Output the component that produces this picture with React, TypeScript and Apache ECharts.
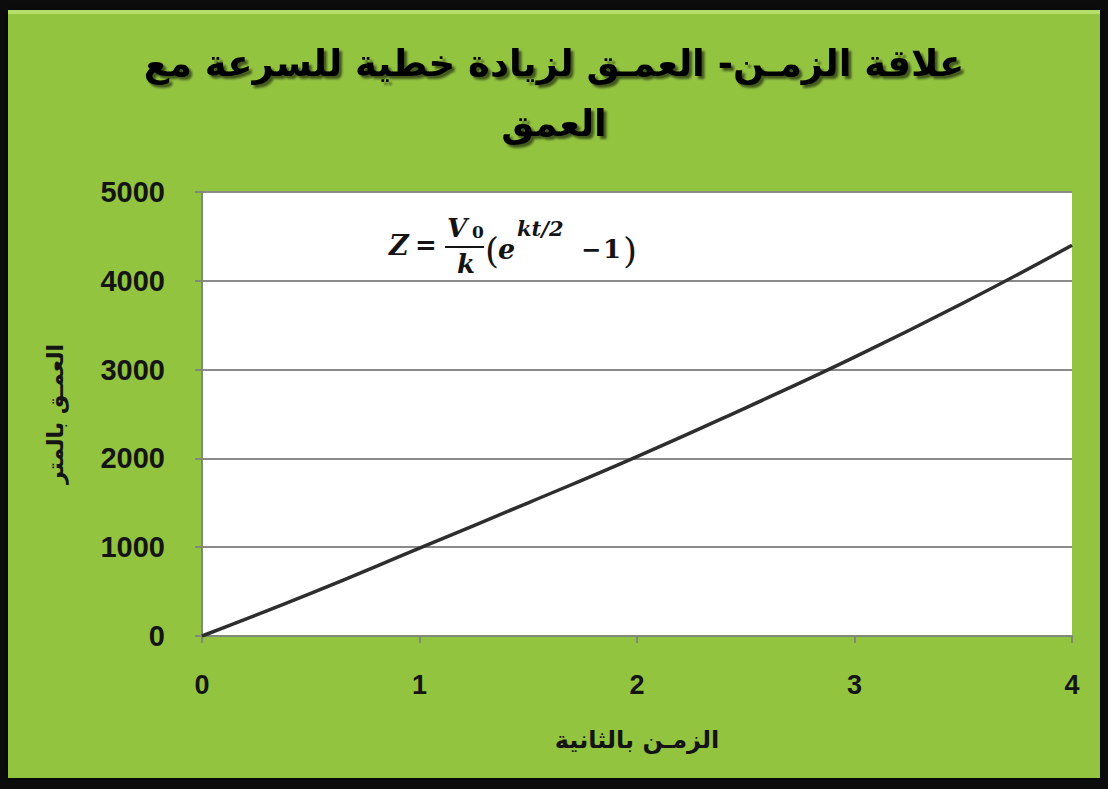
import React, { useEffect, useRef } from "react";
import * as echarts from "echarts";

// time in seconds and depth in metres
const timeValues = [0, 0.5, 1, 1.5, 2, 2.5, 3, 3.5, 4];
const depthValues = [0, 480, 990, 1500, 2020, 2570, 3140, 3750, 4400];

const titleLines = ["علاقة الزمـن- العمـق لزيادة خطية للسرعة مع", "العمق"];
const xAxisTitle = "الزمـن بالثانية";
const yAxisTitle = "العمـق بالمتر";

const GREEN = "#93c43f";
const INK = "#141414";
const MATH_FONT = "'DejaVu Serif', 'Liberation Serif', serif";

export default function App() {
  const ref = useRef<HTMLDivElement>(null);

  useEffect(() => {
    document.body.style.margin = "0";
    const chart = echarts.init(ref.current!, null, { renderer: "svg" });

    const mathText = (
      text: string,
      x: number,
      y: number,
      size: number,
      italic = true,
      bold = true
    ) => ({
      type: "text",
      x,
      y,
      style: {
        text,
        fill: INK,
        font: `${italic ? "italic " : ""}${bold ? "bold " : ""}${size}px ${MATH_FONT}`,
        textAlign: "left",
        textVerticalAlign: "middle",
      },
      z: 10,
    });

    chart.setOption({
      animation: false,
      backgroundColor: "#0c0c0c",
      title: {
        text: titleLines.join("\n"),
        left: "center",
        top: 28,
        textStyle: {
          fontFamily: "'DejaVu Sans', sans-serif",
          fontSize: 37,
          fontWeight: "bold",
          lineHeight: 60,
          color: "#000",
          textShadowColor: "rgba(0,0,0,0.55)",
          textShadowOffsetX: 3,
          textShadowOffsetY: 3,
          textShadowBlur: 2,
        },
      },
      graphic: [
        {
          type: "rect",
          shape: { x: 8, y: 10, width: 1092, height: 768 },
          style: {
            fill: GREEN,
            shadowColor: "rgba(0,0,0,0.5)",
            shadowBlur: 6,
          },
          z: -10,
          silent: true,
        },
        {
          type: "rect",
          shape: { x: 8, y: 10, width: 1092, height: 4 },
          style: { fill: "#b6de6a" },
          z: -9,
          silent: true,
        },
        // equation  Z = V0/k (e^{kt/2} − 1)
        mathText("Z", 389, 245, 27),
        mathText("=", 415, 245, 26, false),
        mathText("V", 447, 228, 26),
        mathText("0", 472, 232, 17, false),
        {
          type: "line",
          shape: { x1: 445, y1: 247, x2: 484, y2: 247 },
          style: { stroke: INK, lineWidth: 2 },
          z: 10,
        },
        mathText("k", 457, 264, 26),
        mathText("(", 485, 250, 36, false, false),
        mathText("e", 498, 249, 27),
        mathText("kt/2", 517, 228, 21),
        mathText("−", 581, 249, 24, false),
        mathText("1", 603, 249, 26, false),
        mathText(")", 623, 250, 36, false, false),
      ],
      grid: {
        left: 202,
        right: 1108 - 1072,
        top: 192,
        bottom: 789 - 636,
        show: true,
        backgroundColor: "#ffffff",
        borderWidth: 0,
      },
      xAxis: {
        type: "value",
        min: 0,
        max: 4,
        interval: 1,
        name: xAxisTitle,
        nameLocation: "middle",
        nameGap: 92,
        nameTextStyle: {
          fontFamily: "'DejaVu Sans', sans-serif",
          fontSize: 24,
          fontWeight: "bold",
          color: INK,
        },
        axisLine: { show: true, onZero: false, lineStyle: { color: "#7f8a78", width: 2 } },
        axisTick: { show: true, length: 7, lineStyle: { color: "#7f8a78", width: 2 } },
        axisLabel: {
          margin: 35,
          fontFamily: "'Liberation Sans', Arial, sans-serif",
          fontSize: 27,
          fontWeight: "bold",
          color: INK,
        },
        splitLine: { show: false },
      },
      yAxis: {
        type: "value",
        min: 0,
        max: 5000,
        interval: 1000,
        name: yAxisTitle,
        nameLocation: "middle",
        nameGap: 136,
        nameTextStyle: {
          fontFamily: "'DejaVu Sans', sans-serif",
          fontSize: 22,
          fontWeight: "bold",
          color: INK,
        },
        axisLine: { show: true, lineStyle: { color: "#7f8a78", width: 2 } },
        axisTick: { show: true, length: 7, lineStyle: { color: "#7f8a78", width: 2 } },
        axisLabel: {
          margin: 37,
          formatter: (v: number) => String(v),
          fontFamily: "'Liberation Sans', Arial, sans-serif",
          fontSize: 29,
          fontWeight: "bold",
          color: INK,
        },
        splitLine: { show: true, lineStyle: { color: "#8a8a8a", width: 2 } },
      },
      series: [
        {
          type: "line",
          data: timeValues.map((t, i) => [t, depthValues[i]]),
          smooth: true,
          showSymbol: false,
          lineStyle: { color: "#2e2e2e", width: 3.5 },
        },
      ],
    });

    return () => chart.dispose();
  }, []);

  return <div ref={ref} style={{ width: 1108, height: 789 }} />;
}
